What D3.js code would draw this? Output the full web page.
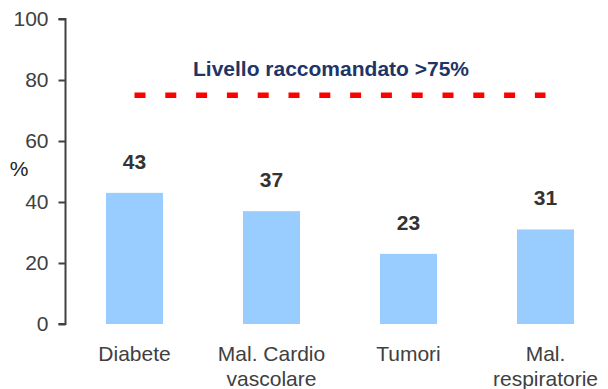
<!DOCTYPE html>
<html>
<head>
<meta charset="utf-8">
<script src="https://cdn.jsdelivr.net/npm/d3@7"></script>
<style>
  html, body { margin: 0; padding: 0; background: #fff; }
  svg { display: block; font-family: Arial, "Liberation Sans", sans-serif; }
</style>
</head>
<body>
<svg id="chart" width="608" height="389"></svg>
<script>
// Percent of patients reaching the recommended level, by disease group
const categories = [["Diabete"], ["Mal. Cardio", "vascolare"], ["Tumori"], ["Mal.", "respiratorie"]];
const values = [43, 37, 23, 31];
const yTicks = [0, 20, 40, 60, 80, 100];
const targetValue = 75;
const targetLabel = "Livello raccomandato >75%";

const svg = d3.select("#chart");

const y = d3.scaleLinear().domain([0, 100]).range([324, 19]);
const x = d3.scaleBand()
  .domain(d3.range(categories.length))
  .range([66, 614])
  .paddingInner(0.584)
  .paddingOuter(0.292);

// Bars
svg.append("g").selectAll("rect")
  .data(values)
  .join("rect")
  .attr("x", (d, i) => x(i))
  .attr("y", d => y(d))
  .attr("width", x.bandwidth())
  .attr("height", d => y(0) - y(d))
  .attr("fill", "#99ccff");

// Value labels above bars
svg.append("g").selectAll("text")
  .data(values)
  .join("text")
  .attr("x", (d, i) => x(i) + x.bandwidth() / 2)
  .attr("y", d => y(d) - 24)
  .attr("text-anchor", "middle")
  .attr("font-size", 21)
  .attr("font-weight", "bold")
  .attr("fill", "#333333")
  .text(d => d);

// Y axis
const yAxis = d3.axisLeft(y).tickValues(yTicks).tickSize(7).tickPadding(10);
const gy = svg.append("g")
  .attr("transform", "translate(65.5,0)")
  .call(yAxis);
gy.select(".domain").attr("stroke", "#404040").attr("stroke-width", 2).attr("d", `M-7,${y(100)}H0V${y(0)}H-7`);
gy.selectAll(".tick line").attr("stroke", "#404040").attr("stroke-width", 2);
gy.selectAll(".tick text")
  .attr("font-size", 21)
  .attr("font-family", "Arial, 'Liberation Sans', sans-serif")
  .attr("fill", "#404040");

// Unit label
svg.append("text")
  .attr("x", 19)
  .attr("y", 176)
  .attr("text-anchor", "middle")
  .attr("font-size", 21)
  .attr("fill", "#222222")
  .text("%");

// Category labels
const cat = svg.append("g").selectAll("text")
  .data(categories)
  .join("text")
  .attr("x", (d, i) => x(i) + x.bandwidth() / 2)
  .attr("y", 361)
  .attr("text-anchor", "middle")
  .attr("font-size", 21)
  .attr("fill", "#404040");
cat.selectAll("tspan")
  .data(d => d)
  .join("tspan")
  .attr("x", function () { return d3.select(this.parentNode).attr("x"); })
  .attr("dy", (d, i) => i === 0 ? 0 : 25)
  .text(d => d);

// Recommended level line
svg.append("line")
  .attr("x1", x(0) + x.bandwidth() / 2)
  .attr("x2", x(values.length - 1) + x.bandwidth() / 2)
  .attr("y1", y(targetValue))
  .attr("y2", y(targetValue))
  .attr("stroke", "#ff0000")
  .attr("stroke-width", 5.5)
  .attr("stroke-dasharray", "11,19.8");

svg.append("text")
  .attr("x", 331)
  .attr("y", 76)
  .attr("text-anchor", "middle")
  .attr("font-size", 21)
  .attr("font-weight", "bold")
  .attr("fill", "#1f3566")
  .text(targetLabel);
</script>
</body>
</html>
